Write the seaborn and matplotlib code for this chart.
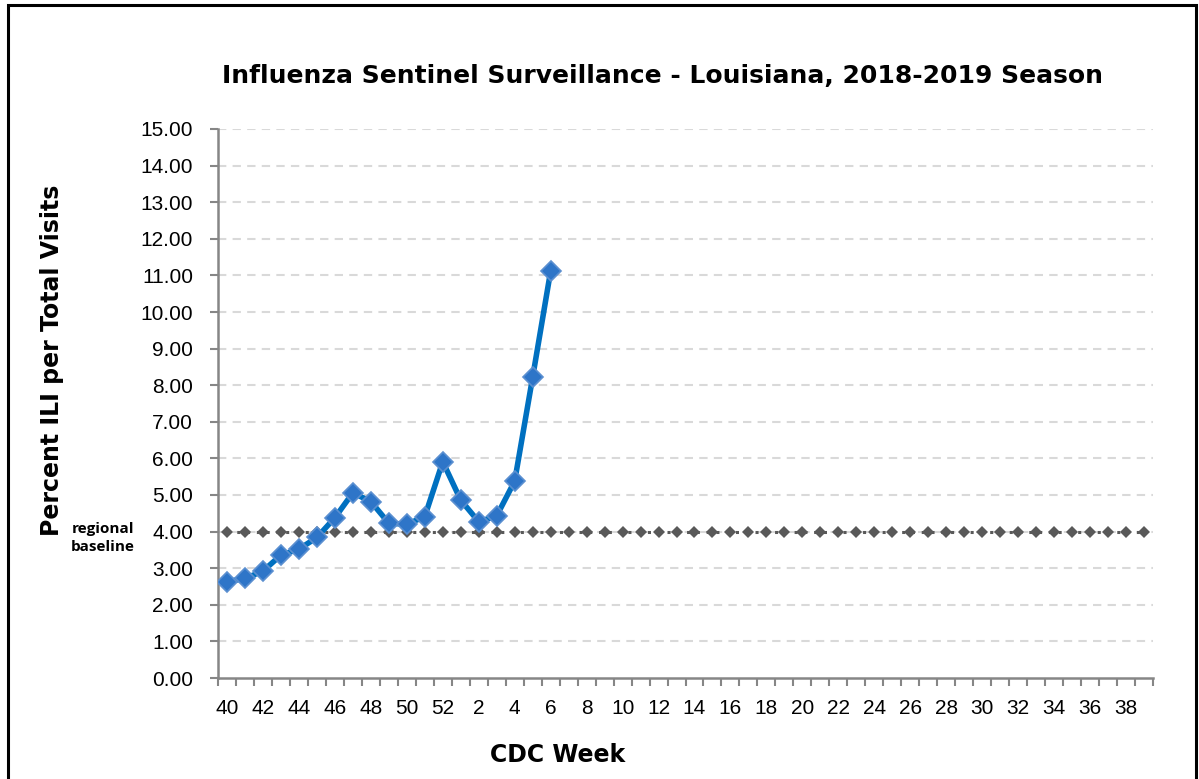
import matplotlib
matplotlib.use("Agg")
import matplotlib.pyplot as plt
import matplotlib.patches as patches
import seaborn as sns
import numpy as np
import pandas as pd

# weeks of the 2018-2019 season, 40..52 then 1..39
weeks = list(range(40, 53)) + list(range(1, 40))
ili_pct = [2.63, 2.72, 2.92, 3.36, 3.52, 3.84, 4.38, 5.06, 4.82, 4.23, 4.20, 4.41, 5.91,
           4.86, 4.27, 4.43, 5.38, 8.22, 11.12]
baseline = 4.00
y_ticks = [i * 1.0 for i in range(16)]

sns.set_theme(style="white")
plt.rcParams['font.family'] = ['DejaVu Sans']
plt.rcParams['text.color'] = 'black'
tick_font = "Liberation Sans"

df = pd.DataFrame({"pos": range(len(ili_pct)), "ili": ili_pct})
df_base = pd.DataFrame({"pos": range(len(weeks)), "base": [baseline] * len(weeks)})

fig = plt.figure(figsize=(11.99, 7.79), dpi=100)
ax = fig.add_axes([218 / 1199, 1 - 678 / 779, (1153 - 218) / 1199, (678 - 129) / 779])

sns.lineplot(data=df_base, x="pos", y="base", ax=ax, color="#595959", lw=2.2,
             linestyle=(0, (1, 2.2)), marker="D", markersize=6.5, markeredgewidth=0,
             zorder=3)
sns.lineplot(data=df, x="pos", y="ili", ax=ax, color="#0070C0", lw=4,
             marker="D", markersize=10, markerfacecolor="#2E75C8",
             markeredgecolor="#5B8FD0", markeredgewidth=1.2, zorder=4)

ax.set_xlim(-0.5, len(weeks) - 0.5)
ax.set_ylim(0, 15)
ax.set_yticks(y_ticks)
ax.set_yticklabels([f"{v:.2f}" for v in y_ticks], fontfamily=tick_font, fontsize=15,
                   color="black")
ax.set_xticks(range(0, len(weeks), 2))
ax.set_xticklabels([str(weeks[i]) for i in range(0, len(weeks), 2)],
                   fontfamily=tick_font, fontsize=15, color="black")
ax.set_xticks(np.arange(-0.5, len(weeks), 1), minor=True)
ax.tick_params(axis="x", which="major", length=0, pad=15)
ax.tick_params(axis="x", which="minor", length=6, width=1.5, color="#868686", direction="out")
ax.tick_params(axis="y", length=6, width=1.5, color="#868686", direction="out", pad=12,
               left=True)
ax.xaxis.set_ticks_position("bottom")

for v in y_ticks[1:]:
    ax.axhline(v, color="#d9d9d9", lw=1.5, linestyle=(0, (4, 3)), zorder=1)

for s in ["top", "right"]:
    ax.spines[s].set_visible(False)
for s in ["left", "bottom"]:
    ax.spines[s].set_color("#868686")
    ax.spines[s].set_linewidth(1.8)

ax.set_xlabel("")
ax.set_ylabel("")
fig.text(663 / 1199, 1 - 76 / 779, "Influenza Sentinel Surveillance - Louisiana, 2018-2019 Season",
         ha="center", va="center", fontsize=18, fontweight="bold", color="black")
fig.text(52 / 1199, 1 - 360 / 779, "Percent ILI per Total Visits", rotation=90,
         ha="center", va="center", fontsize=17, fontweight="bold", color="black")
fig.text(558 / 1199, 1 - 755 / 779, "CDC Week", ha="center", va="center",
         fontsize=17, fontweight="bold", color="black")
fig.text(103 / 1199, 1 - 538 / 779, "regional\nbaseline", ha="center", va="center",
         fontsize=11, fontweight="bold", fontfamily=["Open Sans", "DejaVu Sans"],
         linespacing=1.3, color="black")

frame = patches.Rectangle((8 / 1199, -0.05), (1196 - 8) / 1199, 1.05 - 5 / 779,
                          transform=fig.transFigure, fill=False, edgecolor="black",
                          lw=2.2, zorder=10)
fig.patches.append(frame)

fig.savefig("out.png", dpi=100)
